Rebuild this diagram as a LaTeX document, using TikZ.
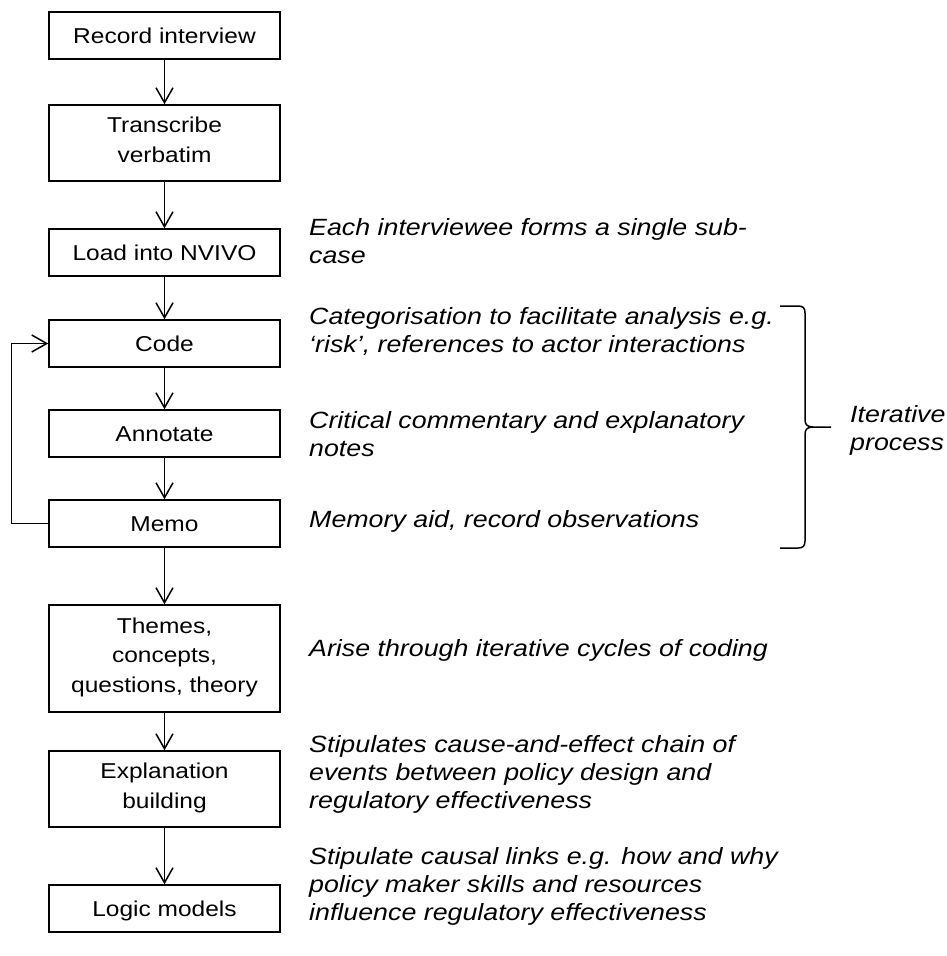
\documentclass[tikz,border=0pt]{standalone}
\usepackage{fontspec}
\setmainfont{Liberation Sans}[FakeStretch=1.14]
\usetikzlibrary{arrows.meta}

% struts that fix the line height inside the boxes and the notes
\newcommand{\bstrut}{\rule[-7pt]{0pt}{29.5pt}}
\newcommand{\tstrut}{\rule[-8pt]{0pt}{28pt}}

\tikzset{
  stage/.style={draw, line width=1.5pt, minimum width=231pt, inner sep=0pt,
    align=center, font=\fontsize{21.5}{29.5}\selectfont,
    execute at begin node=\bstrut, execute at end node=\bstrut},
  note/.style={anchor=north west, inner sep=0pt, align=left,
    font=\fontsize{23.5}{28.3}\selectfont\itshape,
    execute at begin node=\tstrut},
  flow/.style={line width=1.5pt, -{Straight Barb[length=15pt,width=17pt]}},
  bracket/.style={line width=1.5pt, line join=round}
}

\begin{document}
\begin{tikzpicture}[x=1pt,y=-1pt]
\useasboundingbox (0,0) rectangle (947,956);

% process stages
\node[stage, minimum height=47pt]  (rec)   at (164.5,35.5)  {Record interview};
\node[stage, minimum height=76pt]  (tra)   at (164.5,143)   {Transcribe\\verbatim};
\node[stage, minimum height=47pt]  (load)  at (164.5,252.5) {Load into NVIVO};
\node[stage, minimum height=47pt]  (code)  at (164.5,343.5) {Code};
\node[stage, minimum height=47pt]  (ann)   at (164.5,433.5) {Annotate};
\node[stage, minimum height=47pt]  (memo)  at (164.5,523.5) {Memo};
\node[stage, minimum height=107pt] (theme) at (164.5,658.5) {Themes,\\concepts,\\questions, theory};
\node[stage, minimum height=76pt]  (expl)  at (164.5,789)   {Explanation\\building};
\node[stage, minimum height=47pt]  (logic) at (164.5,908.5) {Logic models};

% main flow
\draw[flow] (rec) -- (tra);
\draw[flow] (tra) -- (load);
\draw[flow] (load) -- (code);
\draw[flow] (code) -- (ann);
\draw[flow] (ann) -- (memo);
\draw[flow] (memo) -- (theme);
\draw[flow] (theme) -- (expl);
\draw[flow] (expl) -- (logic);

% feedback loop from Memo back to Code
\draw[flow] (memo.west) -- ++(-37,0) |- (code.west);

% explanatory notes
\node[note] (n1) at (309,218) {Each interviewee forms a single sub-\\case};
\node[note] (n2) at (309,307) {Categorisation to facilitate analysis e.g.\\‘risk’, references to actor interactions};
\node[note] (n3) at (309,411) {Critical commentary and explanatory\\notes};
\node[note] (n4) at (309,507) {Memory aid, record observations};
\node[note] (n5) at (309,636) {Arise through iterative cycles of coding};
\node[note] (n6) at (309,735) {Stipulates cause-and-effect chain of\\events between policy design and\\regulatory effectiveness};
\node[note] (n7) at (309,847) {Stipulate causal links e.g. how and why\\policy maker skills and resources\\influence regulatory effectiveness};

% bracket over the iterative steps
\draw[bracket] (780,306) -- (798,306) .. controls (803,306) and (805,308) .. (805,313)
  -- (805,420) .. controls (805,425) and (808,427) .. (813,427) -- (831,427);
\draw[bracket] (813,427) .. controls (808,427) and (805,429) .. (805,434)
  -- (805,541) .. controls (805,546) and (803,548) .. (798,548) -- (780,548);
\node[note] (iter) at (850,405) {Iterative\\process};
\end{tikzpicture}
\end{document}
